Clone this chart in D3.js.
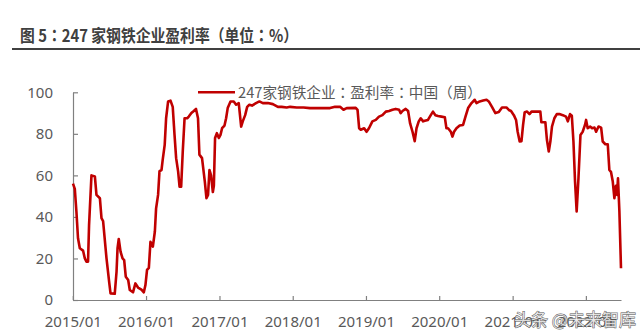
<!DOCTYPE html>
<html>
<head>
<meta charset="utf-8">
<script src="https://cdn.jsdelivr.net/npm/d3@7"></script>
<style>
  body { margin: 0; background: #fff; }
  svg { display: block; font-family: "Noto Sans", "Noto Sans CJK SC", sans-serif; }
</style>
</head>
<body>
<svg id="chart" width="640" height="335"></svg>
<script>
// weekly profitability of 247 steel mills
const dates = [
  "2015-01-02","2015-01-11","2015-01-19","2015-01-27","2015-02-05","2015-02-21","2015-03-02","2015-03-10",
  "2015-03-18","2015-03-23","2015-04-04","2015-04-21","2015-04-29","2015-05-16","2015-05-24","2015-06-01",
  "2015-06-18","2015-07-01","2015-07-08","2015-07-29","2015-08-07","2015-08-12","2015-08-18","2015-08-27",
  "2015-09-06","2015-09-14","2015-09-22","2015-10-04","2015-10-12","2015-10-28","2015-11-09","2015-11-22",
  "2015-12-09","2015-12-21","2015-12-29","2016-01-06","2016-01-15","2016-01-23","2016-02-04","2016-02-14",
  "2016-02-20","2016-03-01","2016-03-08","2016-03-18","2016-03-24","2016-04-03","2016-04-10","2016-04-20",
  "2016-05-02","2016-05-13","2016-05-22","2016-05-30","2016-06-09","2016-06-16","2016-06-24","2016-07-02",
  "2016-07-11","2016-07-24","2016-08-01","2016-08-14","2016-08-26","2016-09-06","2016-09-16","2016-09-23",
  "2016-10-06","2016-10-20","2016-10-28","2016-11-05","2016-11-12","2016-11-20","2016-11-29","2016-12-04",
  "2016-12-10","2016-12-19","2016-12-29","2017-01-06","2017-01-14","2017-01-26","2017-02-03","2017-02-11",
  "2017-02-25","2017-03-13","2017-03-25","2017-04-07","2017-04-19","2017-04-27","2017-05-09","2017-05-19",
  "2017-05-30","2017-06-12","2017-07-02","2017-07-19","2017-08-05","2017-08-30","2017-09-24","2017-10-19",
  "2017-11-07","2017-12-02","2017-12-19","2018-01-21","2018-02-24","2018-03-28","2018-05-16","2018-07-06",
  "2018-07-31","2018-08-25","2018-09-11","2018-09-27","2018-11-11","2018-11-20","2018-11-28","2018-12-06",
  "2018-12-23","2019-01-04","2019-01-16","2019-02-02","2019-02-19","2019-03-07","2019-03-24","2019-04-10",
  "2019-04-26","2019-05-13","2019-05-29","2019-06-15","2019-06-23","2019-07-02","2019-07-18","2019-07-30",
  "2019-08-09","2019-08-21","2019-09-01","2019-09-10","2019-09-21","2019-10-01","2019-10-13","2019-10-21",
  "2019-11-06","2019-11-20","2019-12-01","2019-12-13","2019-12-26","2020-01-12","2020-01-29","2020-02-06",
  "2020-02-14","2020-02-28","2020-03-07","2020-03-15","2020-03-27","2020-04-12","2020-04-29","2020-05-11",
  "2020-05-24","2020-06-10","2020-06-26","2020-07-05","2020-07-21","2020-08-07","2020-08-24","2020-09-04",
  "2020-09-20","2020-10-07","2020-10-24","2020-11-09","2020-12-01","2020-12-13","2020-12-24","2021-01-07",
  "2021-01-18","2021-01-26","2021-02-05","2021-02-14","2021-02-22","2021-03-02","2021-03-14","2021-03-26",
  "2021-04-05","2021-04-25","2021-05-19","2021-05-24","2021-06-13","2021-06-21","2021-06-30","2021-07-08",
  "2021-07-16","2021-07-28","2021-08-09","2021-08-22","2021-09-08","2021-09-24","2021-10-03","2021-10-14",
  "2021-10-23","2021-10-31","2021-11-08","2021-11-16","2021-11-25","2021-12-05","2021-12-16","2021-12-28",
  "2022-01-02","2022-01-10","2022-01-22","2022-02-01","2022-02-13","2022-02-21","2022-03-05","2022-03-18",
  "2022-03-26","2022-04-08","2022-04-20","2022-04-28","2022-05-06","2022-05-15","2022-05-23","2022-05-31",
  "2022-06-05","2022-06-10","2022-06-17","2022-06-25"
];
const rates = [
  56, 53.5, 42.6, 29.7, 24.9, 23.8, 20, 18.5,
  18.5, 36, 60, 59.5, 50.6, 49, 39.4, 38,
  20, 8.8, 3.2, 3, 13.6, 25, 29.4, 23.3,
  20, 19.2, 11.2, 9.6, 4.8, 3.7, 8, 6,
  5, 3.7, 7.2, 14.5, 15.5, 28, 25.7, 33,
  44, 50.6, 62, 62.5, 67.5, 74.7, 87.5, 95.6,
  96, 93, 79.5, 68.3, 61.8, 54.6, 54.6, 71.5,
  87.5, 87.5, 88.3, 90, 91, 92, 87.5, 70,
  68.3, 57, 49, 50.6, 62.6, 60, 52, 55,
  78, 80.3, 78, 79.5, 82.7, 84, 87.5, 92.4,
  95.6, 95.6, 94, 94.8, 83.5, 86, 89, 93,
  94, 93.6, 94.8, 95.6, 94.8, 94.8, 94.3, 93,
  93, 92.7, 93, 92.7, 92.7, 92.4, 92.4, 92.4,
  93, 93, 91.6, 92.4, 92.5, 91.5, 82.7, 82,
  82.7, 81, 82.7, 86, 86.7, 88.3, 89, 90.7,
  91, 91.6, 92, 91.6, 90, 91, 92, 91,
  85, 81, 76.5, 82.7, 86, 87.5, 86, 86.3,
  86.7, 89, 90.7, 89, 88.6, 88.3, 88, 82.7,
  82.7, 81, 78.7, 81, 82.7, 84, 84.3, 88.3,
  92.4, 94.8, 96.4, 94.8, 95.6, 96, 96.4, 95.6,
  93, 90, 90.5, 92.7, 92.7, 91.5, 91, 89,
  86.7, 81, 76.3, 76.5, 84.3, 90.4, 90.7, 89.5,
  90.7, 90.7, 90.7, 85.6, 85.6, 77, 71.5, 76.3,
  83.5, 87.5, 89.5, 89.5, 89, 88.3, 86, 89.5,
  88.7, 76.3, 57, 42.6, 58.6, 79.5, 81, 84.4,
  86.7, 82.7, 83.5, 82.7, 83, 81, 83.5, 83,
  76.3, 75, 75, 62.6, 61.7, 57, 49, 55,
  50.6, 58.6, 42.6, 15.3
];
const yTicks = [0, 20, 40, 60, 80, 100];
const titleText = "图 5：247 家钢铁企业盈利率（单位：%）";
const legendText = "247家钢铁企业：盈利率：中国（周）";

const parseDate = d3.timeParse("%Y-%m-%d");
const series = dates.map((d, i) => ({ date: parseDate(d), value: rates[i] }));

const svg = d3.select("#chart");
const plotL = 73, plotR = 621, plotT = 92.3, plotB = 300;

const x = d3.scaleTime()
  .domain(d3.extent(series, d => d.date))
  .range([plotL, plotR]);
const y = d3.scaleLinear()
  .domain([0, 100])
  .range([plotB, plotT]);

// title + rule
svg.append("text")
  .attr("x", 20)
  .attr("y", 42)
  .attr("font-family", "'Noto Sans CJK TC', sans-serif")
  .attr("font-size", 17)
  .attr("font-weight", "bold")
  .attr("fill", "#404040")
  .attr("textLength", 278)
  .attr("lengthAdjust", "spacingAndGlyphs")
  .text(titleText);

svg.append("line")
  .attr("x1", 12).attr("x2", 640)
  .attr("y1", 49).attr("y2", 49)
  .attr("stroke", "#404040")
  .attr("stroke-width", 2);

// axes
const xAxis = d3.axisBottom(x)
  .tickValues(d3.timeYear.range(new Date(2015, 0, 1), new Date(2022, 6, 1)))
  .tickFormat(d3.timeFormat("%Y/%m"))
  .tickSizeInner(-4)
  .tickSizeOuter(0)
  .tickPadding(16);

const yAxis = d3.axisLeft(y)
  .tickValues(yTicks)
  .tickSizeInner(-5)
  .tickSizeOuter(0)
  .tickPadding(20);

const gx = svg.append("g")
  .attr("transform", `translate(0,${plotB})`)
  .call(xAxis);
const gy = svg.append("g")
  .attr("transform", `translate(${plotL},0)`)
  .call(yAxis);

[gx, gy].forEach(g => {
  g.select(".domain").attr("stroke", "#808080").attr("stroke-width", 1.2);
  g.selectAll(".tick line").attr("stroke", "#808080").attr("stroke-width", 1.2);
  g.selectAll(".tick text")
    .attr("fill", "#595959")
    .attr("font-size", 15)
    .attr("font-family", "'Noto Sans', sans-serif");
});

// the line
const line = d3.line()
  .x(d => x(d.date))
  .y(d => y(d.value));

svg.append("path")
  .datum(series)
  .attr("fill", "none")
  .attr("stroke", "#c00000")
  .attr("stroke-width", 2.6)
  .attr("stroke-linejoin", "round")
  .attr("d", line);

// legend
svg.append("line")
  .attr("x1", 198).attr("x2", 235)
  .attr("y1", 92.3).attr("y2", 92.3)
  .attr("stroke", "#c00000")
  .attr("stroke-width", 2.6);

svg.append("text")
  .attr("x", 238)
  .attr("y", 92.3)
  .attr("dy", "0.36em")
  .attr("font-family", "'Noto Sans CJK TC', sans-serif")
  .attr("font-size", 14.5)
  .attr("fill", "#595959")
  .attr("textLength", 244)
  .attr("lengthAdjust", "spacingAndGlyphs")
  .text(legendText);

// watermark laid over the bottom-right corner, as in the source image
svg.append("text")
  .attr("x", 514)
  .attr("y", 326)
  .attr("font-family", "'Noto Sans CJK SC', sans-serif")
  .attr("font-size", 17)
  .attr("fill", "#fff")
  .attr("fill-opacity", 0.8)
  .attr("stroke", "#555")
  .attr("stroke-width", 0.9)
  .attr("paint-order", "stroke")
  .text("头条 @未来智库");
</script>
</body>
</html>
